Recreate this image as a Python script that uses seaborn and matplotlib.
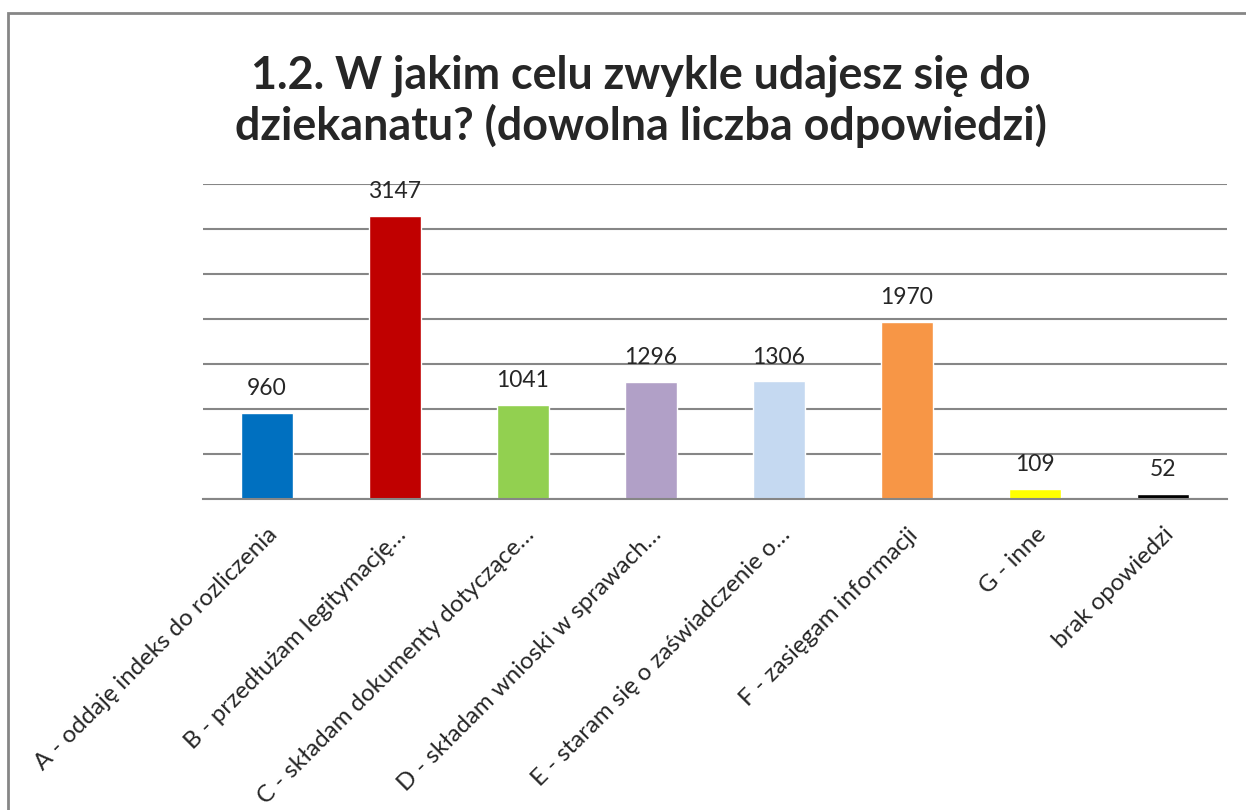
import seaborn as sns
import matplotlib.pyplot as plt
import pandas as pd
import numpy as np
from matplotlib.patches import Rectangle

# Survey answers (counts)
categories = [
    "A - oddaję indeks do rozliczenia",
    "B - przedłużam legitymację…",
    "C - składam dokumenty dotyczące…",
    "D - składam wnioski w sprawach…",
    "E - staram się o zaświadczenie o…",
    "F - zasięgam informacji",
    "G - inne",
    "brak opowiedzi",
]
counts = [960, 3147, 1041, 1296, 1306, 1970, 109, 52]
colors = ["#0070C0", "#C00000", "#92D050", "#B1A0C7",
          "#C5D9F1", "#F79646", "#FFFF00", "#000000"]

data = pd.DataFrame({"cat": categories, "n": counts})

sns.set_style("white")
plt.rcParams["font.family"] = ["Lato", "DejaVu Sans"]

fig = plt.figure(figsize=(12.46, 8.10), dpi=100)
ax = fig.add_axes([0.1629, 0.384, 0.8219, 0.3889])

sns.barplot(data=data, x="cat", y="n", hue="cat", palette=colors,
            legend=False, width=0.41, saturation=1, ax=ax)

ax.set_ylim(0, 3500)
ax.set_xlim(-0.5, len(categories) - 0.5)
ax.set_yticks(np.arange(0, 3501, 500))
ax.set_yticklabels([])
ax.grid(axis="y", color="#868686", linewidth=1.5)
ax.set_axisbelow(True)
for s in ["top", "right", "left"]:
    ax.spines[s].set_visible(False)
ax.spines["bottom"].set_color("#868686")
ax.spines["bottom"].set_linewidth(1.5)
ax.tick_params(axis="y", length=0)

# category ticks sit between bars
ax.set_xticks(np.arange(len(categories)))
ax.set_xticklabels(categories, rotation=45, ha="right", rotation_mode="anchor",
                   fontsize=17.3)
ax.set_xticks(np.arange(-0.5, len(categories)), minor=True)
ax.tick_params(axis="x", which="major", length=0, pad=18)
ax.tick_params(axis="x", which="minor", length=7, width=1.5, color="#868686")
ax.set_xlabel("")
ax.set_ylabel("")

for i, v in enumerate(counts):
    ax.annotate(str(v), (i, v), xytext=(0, 10), textcoords="offset points",
                ha="center", va="bottom", fontsize=16.5)

fig.text(0.514, 0.8747, "1.2. W jakim celu zwykle udajesz się do\ndziekanatu? (dowolna liczba odpowiedzi)",
         ha="center", va="center", fontsize=32.3, fontweight="bold",
         linespacing=1.18)

# chart frame (cropped on right/bottom)
fig.patches.append(Rectangle((8 / 1246, -0.1), 1.2, (810 - 13) / 810 + 0.1,
                             transform=fig.transFigure, fill=False,
                             edgecolor="#868686", linewidth=2))

fig.savefig("out.png", dpi=100)
